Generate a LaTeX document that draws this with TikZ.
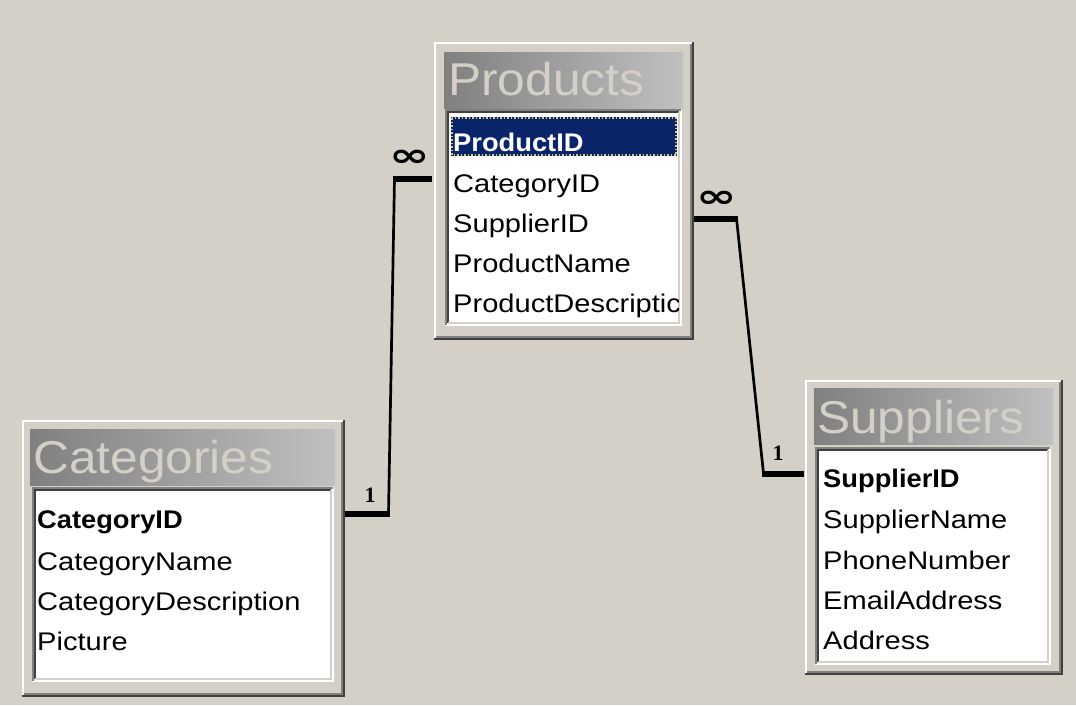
\documentclass[tikz,border=0pt]{standalone}
\usepackage{fontspec}
\setmainfont{Liberation Sans}[FakeStretch=1.14]
\newfontfamily\keyfont{Liberation Sans}[FakeStretch=1.07]
\newfontfamily\titlefont{Liberation Sans}[FakeStretch=1.08]
\newfontfamily\symfont{DejaVu Sans}
\newfontfamily\onefont{Liberation Serif}
\definecolor{winbg}{HTML}{D4D0C8}
\definecolor{dkgray}{HTML}{404040}
\definecolor{mdgray}{HTML}{808080}
\definecolor{ttlL}{HTML}{808080}
\definecolor{ttlR}{HTML}{C0C0C0}
\definecolor{selnavy}{HTML}{0A246A}
\definecolor{focusdot}{HTML}{D8CC80}

\newcommand\winframe[5]{%
  \node[winnode, minimum width={#4-#2}, minimum height={#5-#3}] (#1) at (#2,#3) {};
  \draw[white, line width=2pt] (#2+1,#5-2) -- (#2+1,#3+1) -- (#4-2,#3+1);
  \draw[dkgray, line width=2pt] (#2,#5-1) -- (#4-1,#5-1) -- (#4-1,#3);
  \draw[mdgray, line width=2pt] (#2+2,#5-3) -- (#4-3,#5-3) -- (#4-3,#3+2);
}
\newcommand\titlebar[5]{%
  \node[titlenode, minimum width={#4-#2}, minimum height={#5-#3}] (#1) at (#2,#3) {};
}
\newcommand\sunkbox[5]{%
  \node[listnode, minimum width={#4-#2}, minimum height={#5-#3}] (#1) at (#2,#3) {};
  \draw[mdgray, line width=2pt] (#2+1,#5-1) -- (#2+1,#3+1) -- (#4-1,#3+1);
  \draw[dkgray, line width=2pt] (#2+3,#5-3) -- (#2+3,#3+3) -- (#4-3,#3+3);
  \draw[winbg, line width=2pt] (#2+3,#5-3) -- (#4-3,#5-3) -- (#4-3,#3+3);
}

\begin{document}
\begin{tikzpicture}[x=1pt,y=-1pt,
  winnode/.style={anchor=north west, inner sep=0pt, outer sep=0pt, fill=winbg, draw=none},
  titlenode/.style={anchor=north west, inner sep=0pt, outer sep=0pt, draw=none, left color=ttlL, right color=ttlR},
  listnode/.style={anchor=north west, inner sep=0pt, outer sep=0pt, fill=white, draw=none},
  titletext/.style={anchor=base west, inner sep=0pt, text=winbg, font=\titlefont\fontsize{46}{46}\selectfont},
  field/.style={anchor=base west, inner sep=0pt, text=black, font=\fontsize{25.5}{25.5}\selectfont},
  keyfield/.style={anchor=base west, inner sep=0pt, text=black, font=\keyfont\bfseries\fontsize{25.5}{25.5}\selectfont},
  relthick/.style={line width=6pt},
  relthin/.style={line width=2.7pt},
  multlabel/.style={inner sep=0pt, font=\symfont\bfseries\fontsize{36}{36}\selectfont},
  onelabel/.style={inner sep=0pt, font=\onefont\bfseries\fontsize{22}{22}\selectfont}]
\fill[winbg] (0,0) rectangle (1076,705);
\useasboundingbox (0,0) rectangle (1076,705);

% ---------- Products ----------
\winframe{prodwin}{434}{42}{694}{340}
\titlebar{prodtitle}{444}{52}{683}{108}
\node[titletext] (prodtitletext) at (448,95) {Products};
\sunkbox{prodlist}{445}{109}{682}{326}
\fill[selnavy] (451,117) rectangle (677,156);
\draw[focusdot, dotted, line width=1.5pt] (452,118) rectangle (676,155);
\node[keyfield, text=white] (p-id) at (453,151) {ProductID};
\node[field] (p-cat) at (453,192) {CategoryID};
\node[field] (p-sup) at (453,232) {SupplierID};
\node[field] (p-name) at (453,272) {ProductName};
\begin{scope}
  \clip (449,113) rectangle (678,323);
  \node[field] (p-desc) at (453,312) {ProductDescriptic};
\end{scope}

% ---------- Categories ----------
\winframe{catwin}{22}{420}{345}{697}
\titlebar{cattitle}{30}{429}{335}{485}
\node[titletext] (cattitletext) at (33,473) {Categories};
\sunkbox{catlist}{32}{487}{334}{682}
\node[keyfield] (c-id) at (37,528) {CategoryID};
\node[field] (c-name) at (37,570) {CategoryName};
\node[field] (c-desc) at (37,610) {CategoryDescription};
\node[field] (c-pic) at (37,650) {Picture};

% ---------- Suppliers ----------
\winframe{supwin}{805}{380}{1063}{675}
\titlebar{suptitle}{814}{388}{1053}{444}
\node[titletext] (suptitletext) at (817,433) {Suppliers};
\sunkbox{suplist}{815}{447}{1051}{665}
\node[keyfield] (s-id) at (823,487) {SupplierID};
\node[field] (s-name) at (823,528) {SupplierName};
\node[field] (s-phone) at (823,569) {PhoneNumber};
\node[field] (s-mail) at (823,609) {EmailAddress};
\node[field] (s-addr) at (823,649) {Address};

% ---------- Relationship Categories - Products ----------
\coordinate (r1p) at (432,178.5);
\coordinate (r1a) at (394.5,178.5);
\coordinate (r1b) at (388.5,513.5);
\coordinate (r1c) at (345,513.5);
\draw[relthick] (r1p) -- ([xshift=-1.5pt]r1a);
\draw[relthin] (r1a) -- (r1b);
\draw[relthick] ([xshift=1.5pt]r1b) -- (r1c);
\node[multlabel] (m1) at (410,158) {\scalebox{1.35}[0.9]{∞}};
\node[onelabel] (o1) at (370,495) {1};

% ---------- Relationship Products - Suppliers ----------
\coordinate (r2p) at (694,218.5);
\coordinate (r2a) at (736.5,218.5);
\coordinate (r2b) at (763.5,473.5);
\coordinate (r2s) at (804,473.5);
\draw[relthick] (r2p) -- ([xshift=1.5pt]r2a);
\draw[relthin] (r2a) -- (r2b);
\draw[relthick] ([xshift=-1.5pt]r2b) -- (r2s);
\node[multlabel] (m2) at (717,199) {\scalebox{1.35}[0.9]{∞}};
\node[onelabel] (o2) at (778,453) {1};
\end{tikzpicture}
\end{document}
